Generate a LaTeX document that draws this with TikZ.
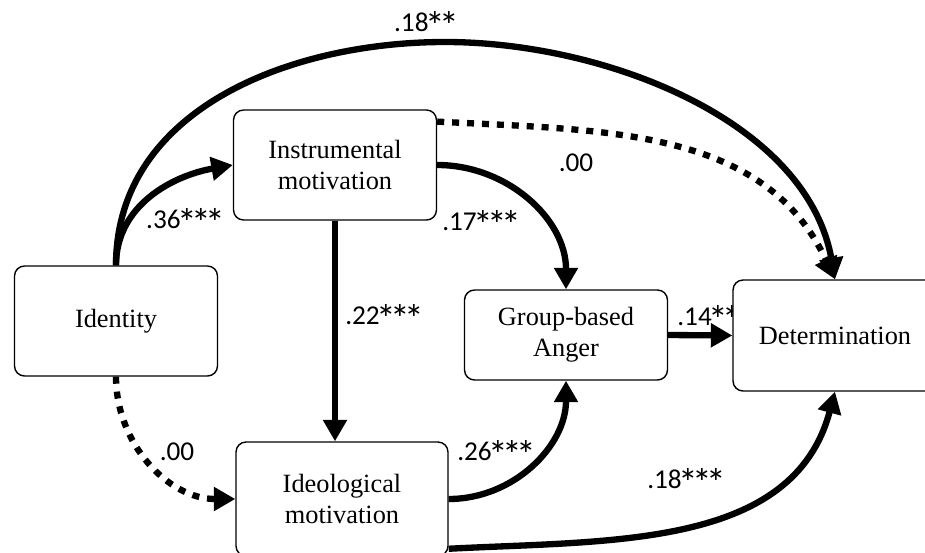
\documentclass[tikz,border=0pt]{standalone}
\usepackage{graphicx}
\usepackage{fontspec}
\setmainfont{Liberation Serif}
\newfontfamily\coeffont{Carlito}
\usetikzlibrary{arrows.meta,backgrounds}
\newcommand\sigstar{\kern-0.11em\raisebox{-0.3em}{\scalebox{1.45}{*}}\kern-0.11em}

\begin{document}
\begin{tikzpicture}[x=0.02cm, y=0.02cm,
  varbox/.style={draw, line width=0.8pt, rounded corners=0.2cm, fill=white,
    align=center, inner sep=0pt, font=\fontsize{15}{17.8}\selectfont},
  effect/.style={line width=3.6pt, -{Triangle[length=0.43cm, width=0.46cm]}},
  nulleffect/.style={effect, dash pattern=on 4pt off 4.5pt},
  coef/.style={inner sep=0pt, text height=10.4pt, text depth=0pt,
    font=\coeffont\fontsize{15.5}{18}\selectfont}]
\useasboundingbox (0,0) rectangle (925,552);
% ---- variables
\node[varbox, minimum width=4.06cm, minimum height=2.2cm] (ident) at (116,231) {Identity};
\node[varbox, minimum width=4.06cm, minimum height=2.2cm] (instr) at (335,387)
  {Instrumental\\motivation};
\node[varbox, minimum width=4.24cm, minimum height=2.28cm] (ideo) at (342,53)
  {Ideological\\motivation};
\node[varbox, minimum width=4.06cm, minimum height=1.8cm] (anger) at (566,217)
  {Group-based\\Anger};
\node[varbox, minimum width=4.08cm, minimum height=2.22cm] (det) at (835,216.5)
  {Determination};
% ---- paths (under the boxes)
\begin{pgfonlayer}{background}
\coordinate (arctop) at (445,510);
\draw[effect] (ident.north) to[out=90, in=190] (instr.west);
\draw[effect] (ident.north) to[out=90, in=180] (arctop)
  to[out=0, in=100, looseness=0.9] (det.north);
\draw[nulleffect] (instr.23) to[out=-3, in=115] (det.north);
\draw[effect] (instr.east) to[out=0, in=90] (anger.north);
\draw[effect] (instr.south) -- (instr.south |- ideo.north);
\draw[nulleffect] (ident.south) to[out=-90, in=180] (ideo.west);
\draw[effect] (ideo.east) to[out=0, in=-90] (anger.south);
\draw[effect] (ideo.-25) to[out=3, in=-105] (det.south);
\draw[effect] (anger.east) -- (det.west);
% ---- coefficients
\node[coef] (c36) at (184,333) {.36\sigstar\sigstar\sigstar};
\node[coef] (c18a) at (425,530) {.18\sigstar\sigstar};
\node[coef] (c00a) at (576,390) {.00};
\node[coef] (c17) at (480,331) {.17\sigstar\sigstar\sigstar};
\node[coef] (c22) at (383,237) {.22\sigstar\sigstar\sigstar};
\node[coef] (c00b) at (177,101) {.00};
\node[coef] (c26) at (495,101) {.26\sigstar\sigstar\sigstar};
\node[coef] (c18b) at (685,73) {.18\sigstar\sigstar\sigstar};
\node[coef, anchor=west] (c14) at (677,236) {.14\sigstar\sigstar};
\end{pgfonlayer}
\end{tikzpicture}
\end{document}
